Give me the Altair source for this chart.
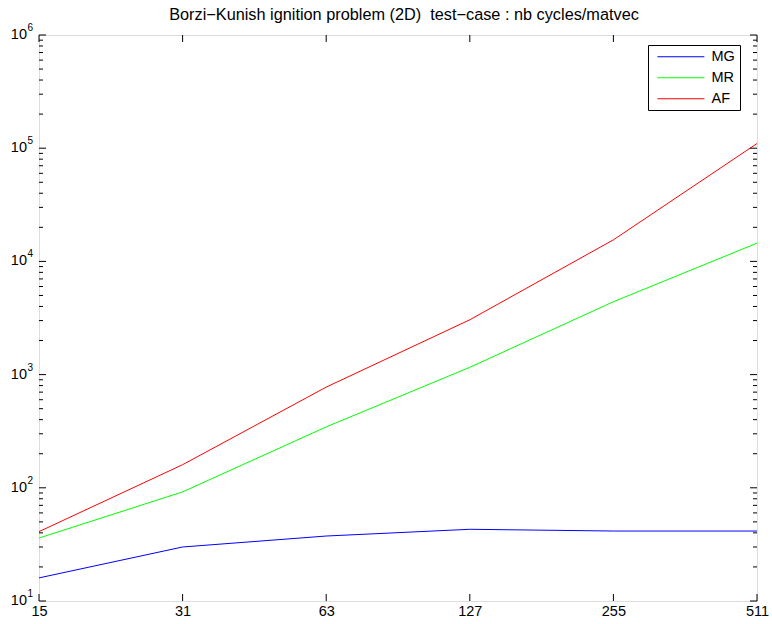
import altair as alt
import pandas as pd

# Grid sizes (x axis) and cycles per matrix-vector product for each method
grid_sizes = [15, 31, 63, 127, 255, 511]
mg_cycles = [16, 30, 37.5, 43, 41.5, 41.5]
mr_cycles = [36, 92, 345, 1160, 4400, 14500]
af_cycles = [41, 160, 775, 3050, 15500, 110000]

series_names = ["MG", "MR", "AF"]
series_colors = ["#0000ff", "#00ff00", "#ff0000"]

decade_exponents = [1, 2, 3, 4, 5, 6]
minor_multipliers = [2, 3, 4, 5, 6, 7, 8, 9]

# a no-break space keeps the double gap from collapsing in SVG text
title_text = "Borzi\u2212Kunish ignition problem (2D)\u00a0 test\u2212case : nb cycles/matvec"

FONT = "Liberation Sans"
W, H = 718, 566

x_labels = [str(n) for n in grid_sizes]

rows = []
for name, vals in zip(series_names, [mg_cycles, mr_cycles, af_cycles]):
    for n, v in zip(x_labels, vals):
        rows.append({"n": n, "method": name, "cycles": v})
df = pd.DataFrame(rows)

major_df = pd.DataFrame({"v": [10.0 ** e for e in decade_exponents], "e": [str(e) for e in decade_exponents]})
minor_df = pd.DataFrame({"v": [m * 10.0 ** e for e in decade_exponents[:-1] for m in minor_multipliers]})
xtick_df = pd.DataFrame({"n": x_labels})
title_df = pd.DataFrame({"t": [title_text]})

x_scale = alt.Scale(type="point", padding=0)
y_scale = alt.Scale(type="log", domain=[10, 1e6], nice=False)

x_axis = alt.Axis(title=None, labelAngle=0, ticks=False, domain=False,
                  labelFontSize=14.5, labelFont=FONT, labelColor="black",
                  labelPadding=3)

def x_enc():
    return alt.X("n:O", sort=x_labels, scale=x_scale, axis=x_axis)

# legend sample line: a long horizontal stroke drawn from the symbol's left edge
legend_line = "M-1,0H7"

lines = alt.Chart(df).mark_line(strokeWidth=1, clip=True).encode(
    x=x_enc(),
    y=alt.Y("cycles:Q", scale=y_scale, axis=None),
    color=alt.Color("method:N", sort=series_names,
                    scale=alt.Scale(domain=series_names, range=series_colors),
                    legend=alt.Legend(orient="none", legendX=609, legendY=10, title=None,
                                      symbolType=legend_line, symbolSize=138,
                                      symbolStrokeWidth=1, labelFontSize=14.5,
                                      labelFont=FONT, labelColor="black",
                                      strokeColor="black", fillColor="white",
                                      padding=4.5, rowPadding=6, symbolOffset=3.5,
                                      labelOffset=41)),
    detail="method:N",
)

def yrules(data, x0, x1):
    return alt.Chart(data).mark_rule(color="black", strokeWidth=1).encode(
        y=alt.Y("v:Q", scale=y_scale, axis=None),
        x=alt.value(x0), x2=alt.value(x1))

left_major = yrules(major_df, 0, 7)
left_minor = yrules(minor_df, 0, 4)
right_major = yrules(major_df, W - 7, W)
right_minor = yrules(minor_df, W - 4, W)

bottom_ticks = alt.Chart(xtick_df).mark_rule(color="black", strokeWidth=1).encode(
    x=x_enc(), y=alt.value(H - 7), y2=alt.value(H))
top_ticks = alt.Chart(xtick_df).mark_rule(color="black", strokeWidth=1).encode(
    x=x_enc(), y=alt.value(0), y2=alt.value(7))

# y labels as "10" with a raised exponent
base_labels = alt.Chart(major_df).mark_text(
    align="right", baseline="middle", fontSize=14.5, font=FONT, color="black").encode(
    y=alt.Y("v:Q", scale=y_scale, axis=None), x=alt.value(-12), text=alt.value("10"))
exp_labels = alt.Chart(major_df).mark_text(
    align="left", baseline="middle", fontSize=10, font=FONT, color="black", dy=-7).encode(
    y=alt.Y("v:Q", scale=y_scale, axis=None), x=alt.value(-11.5), text="e:N")

# chart title centred above the axes box
title = alt.Chart(title_df).mark_text(
    align="center", baseline="alphabetic", fontSize=16.3, font=FONT, color="black").encode(
    x=alt.value(W / 2 + 6), y=alt.value(-15), text="t:N")

chart = alt.layer(
    lines, left_major, left_minor, right_major, right_minor,
    bottom_ticks, top_ticks, base_labels, exp_labels, title,
).properties(
    width=W, height=H,
    padding={"left": 39, "top": 35, "right": 15, "bottom": 23},
    autosize=alt.AutoSizeParams(type="none"),
).configure_view(stroke="black", strokeWidth=1).configure(background="white")

chart.save("out.html", embed_options={"renderer": "svg", "actions": False})
